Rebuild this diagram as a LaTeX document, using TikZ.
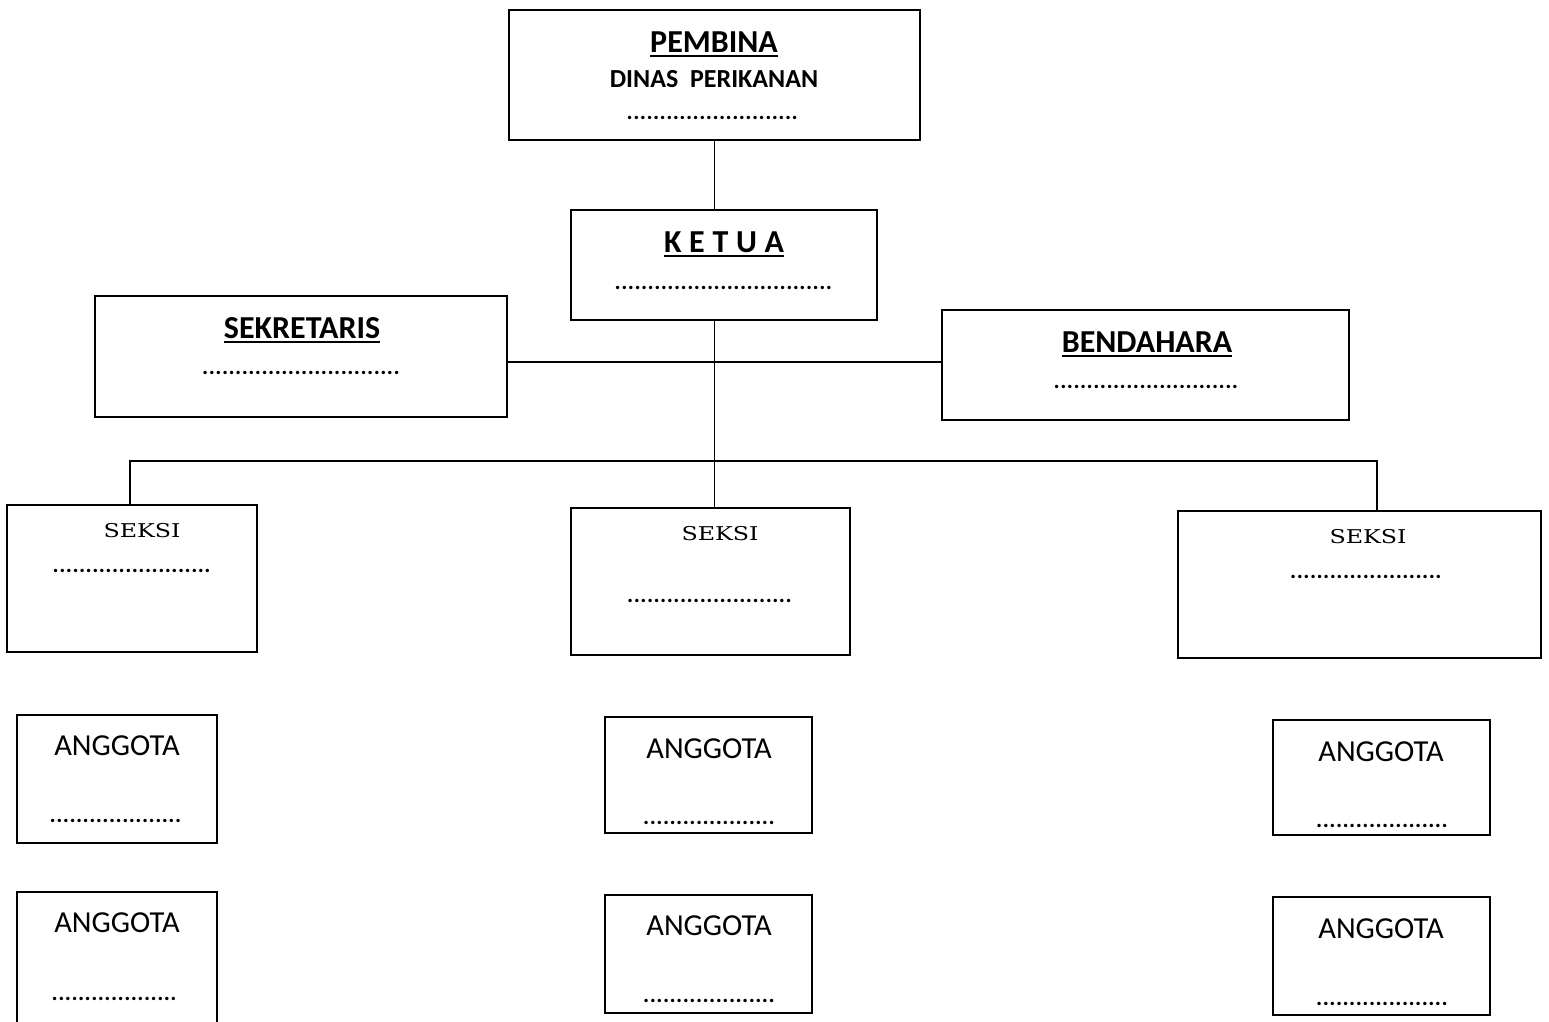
\documentclass[tikz,border=0pt]{standalone}
\usepackage{fontspec}
\setmainfont{Carlito}
\newfontfamily\serfont[FakeStretch=1.25]{DejaVu Serif}
\newcommand\dotrow[1]{\makebox[#1pt]{\leaders\hbox to 6.6pt{\hss.\hss}\hfill}}
\newcommand\ulin[1]{\leavevmode\vtop{\hbox{#1}\kern 2.5pt\hrule height 2.4pt}}
\tikzset{
  box/.style={draw, line width=1.9pt, inner sep=0pt, outer sep=0pt},
  conn/.style={line width=1.9pt},
  ttl/.style={font=\fontsize{32}{36}\selectfont\bfseries, anchor=base, inner sep=0pt},
  sub/.style={font=\fontsize{26}{30}\selectfont\bfseries, anchor=base, inner sep=0pt},
  seks/.style={font=\serfont\fontsize{19}{22}\selectfont, anchor=base, inner sep=0pt},
  ang/.style={font=\fontsize{30.5}{34}\selectfont, anchor=base, inner sep=0pt},
  dotsty/.style={font=\fontsize{23}{26}\selectfont\bfseries, anchor=base, inner sep=0pt},
}
\begin{document}
\begin{tikzpicture}[x=1pt,y=-1pt]
\fill[white] (0,0) rectangle (1549,1021);
\clip (0,0) rectangle (1549,1021);
% boxes
\node[box, minimum width=411pt, minimum height=130pt] (pemb) at (714.5,75) {};
\node[box, minimum width=306pt, minimum height=110pt] (ketua) at (724,265) {};
\node[box, minimum width=412pt, minimum height=121pt] (sek) at (301,356.5) {};
\node[box, minimum width=407pt, minimum height=110pt] (bend) at (1145.5,365) {};
\node[box, minimum width=250pt, minimum height=147pt] (seksiL) at (132,578.5) {};
\node[box, minimum width=279pt, minimum height=147pt] (seksiM) at (710.5,581.5) {};
\node[box, minimum width=363pt, minimum height=147pt] (seksiR) at (1359.5,584.5) {};
\node[box, minimum width=200pt, minimum height=128pt] (aL1) at (117,779) {};
\node[box, minimum width=200pt, minimum height=140pt] (aL2) at (117,962) {};
\node[box, minimum width=207pt, minimum height=116pt] (aM1) at (708.5,775) {};
\node[box, minimum width=207pt, minimum height=118pt] (aM2) at (708.5,954) {};
\node[box, minimum width=217pt, minimum height=115pt] (aR1) at (1381.5,777.5) {};
\node[box, minimum width=217pt, minimum height=118pt] (aR2) at (1381.5,956) {};
% connectors
\coordinate (hy) at (714,362);
\coordinate (bus) at (714,461);
\draw[conn] (pemb.south) -- (pemb.south |- ketua.north);
\draw[conn] (pemb.south |- ketua.south) -- (pemb.south |- seksiM.north);
\draw[conn] (sek.east |- hy) -- (bend.west |- hy);
\draw[conn] ([xshift=-2pt]seksiL.north) -- ([xshift=-2pt]seksiL.north |- bus) -- ([xshift=17.5pt]seksiR.north |- bus) -- ([xshift=17.5pt]seksiR.north);
% texts
\node[ttl] (tPemb) at (714,52) {\ulin{PEMBINA}};
\node[sub] (tDinas) at (714,87) {DINAS\ \ PERIKANAN};
\node[dotsty] (dPemb) at (714,119) {\dotrow{175}};
\node[ttl] (tKetua) at (724,252) {\ulin{K\hskip 0.24em E\hskip 0.24em T\hskip 0.24em U\hskip 0.24em A}};
\node[dotsty] (dKetua) at (724,289) {\dotrow{219}};
\node[ttl] (tSek) at (302,338) {\ulin{SEKRETARIS}};
\node[dotsty] (dSek) at (302,374) {\dotrow{200}};
\node[ttl] (tBend) at (1147,352) {\ulin{BENDAHARA}};
\node[dotsty] (dBend) at (1147,388) {\dotrow{187}};
\node[seks] (sL) at (142,537) {SEKSI};
\node[dotsty] (dsL) at (132,572) {\dotrow{159}};
\node[seks] (sM) at (720,540) {SEKSI};
\node[dotsty] (dsM) at (710,602) {\dotrow{166}};
\node[seks] (sR) at (1368,543) {SEKSI};
\node[dotsty] (dsR) at (1369,578) {\dotrow{158}};
\node[ang] (tL1) at (117,755) {ANGGOTA};
\node[dotsty] (dL1) at (118,822) {\dotrow{137}};
\node[ang] (tL2) at (117,932) {ANGGOTA};
\node[dotsty] (dL2) at (117,1000) {\dotrow{131}};
\node[ang] (tM1) at (709,758) {ANGGOTA};
\node[dotsty] (dM1) at (709,824) {\dotrow{132}};
\node[ang] (tM2) at (709,935) {ANGGOTA};
\node[dotsty] (dM2) at (709,1002) {\dotrow{132}};
\node[ang] (tR1) at (1381,761) {ANGGOTA};
\node[dotsty] (dR1) at (1382,827) {\dotrow{132}};
\node[ang] (tR2) at (1381,938) {ANGGOTA};
\node[dotsty] (dR2) at (1382,1005) {\dotrow{132}};
\end{tikzpicture}
\end{document}
